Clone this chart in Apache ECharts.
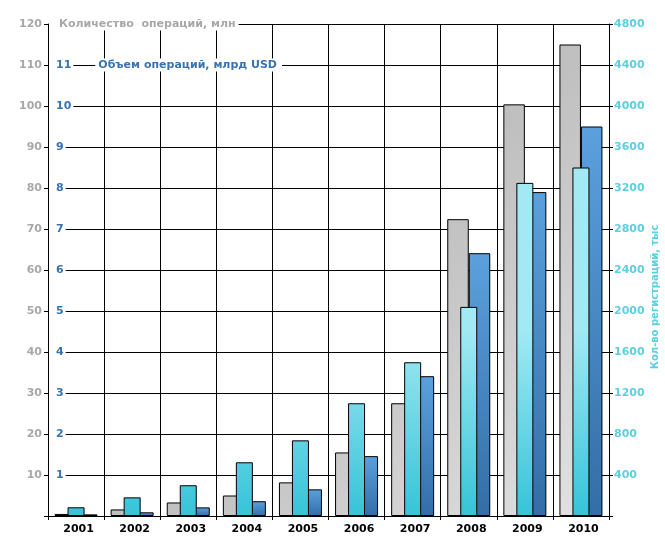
<!DOCTYPE html>
<html><head><meta charset="utf-8">
<script src="https://cdn.jsdelivr.net/npm/echarts/dist/echarts.min.js"></script>
<style>html,body{margin:0;padding:0;background:#fff}#c{width:665px;height:550px}</style>
</head><body><div id="c"></div>
<script>
// ---- data ----
const years = ['2001','2002','2003','2004','2005','2006','2007','2008','2009','2010'];
const opsCount = [0.5, 1.6, 3.3, 5.0, 8.2, 15.5, 27.5, 72.4, 100.4, 115.0];      // млн
const registrations = [85, 182, 300, 524, 738, 1100, 1500, 2040, 3250, 3400];    // тыс
const opsVolume = [0.04, 0.09, 0.21, 0.36, 0.65, 1.46, 3.41, 6.41, 7.9, 9.5];     // млрд USD
const countTitle = 'Количество  операций, млн';
const volumeTitle = 'Объем операций, млрд USD';
const regTitle = 'Кол-во регистраций, тыс';

const FONT = '"DejaVu Sans", Verdana, sans-serif';
const GRAY = '#a8a8a8', BLUE = '#3873b0', CYAN = '#5ccfe0';

const chart = echarts.init(document.getElementById('c'));
const G = echarts.graphic.LinearGradient;
chart.setOption({
  animation: false,
  backgroundColor: '#fff',
  grid: { left: 48, right: 56, top: 24, bottom: 34 },
  xAxis: [{
    type: 'category', data: years, boundaryGap: true,
    axisLine: { lineStyle: { color: '#000', width: 1 } },
    axisTick: { show: true, length: 4, interval: 0, lineStyle: { color: '#000' } },
    axisLabel: { interval: 0, margin: 8, color: '#000', fontFamily: FONT, fontWeight: 'bold', fontSize: 11, padding: [0,0,0,5] },
    splitLine: { show: true, interval: 0, lineStyle: { color: '#000', width: 1 } }
  }, {
    type: 'category', data: years, show: false
  }],
  yAxis: [{
    type: 'value', min: 0, max: 120, interval: 10, position: 'left',
    axisLine: { show: true, lineStyle: { color: '#000' } },
    axisTick: { show: true, length: 4, lineStyle: { color: '#000' } },
    axisLabel: { margin: 6, color: GRAY, fontFamily: FONT, fontWeight: 'bold', fontSize: 11,
      formatter: v => v === 0 ? '' : String(v) },
    splitLine: { show: true, lineStyle: { color: '#000', width: 1 } }
  }, {
    type: 'value', min: 0, max: 4800, interval: 400, position: 'right',
    axisLine: { show: true, lineStyle: { color: '#000' } },
    axisTick: { show: true, length: 4, lineStyle: { color: '#000' } },
    axisLabel: { margin: 5, color: CYAN, fontFamily: FONT, fontWeight: 'bold', fontSize: 11,
      formatter: v => v === 0 ? '' : String(v) },
    splitLine: { show: false }
  }, {
    type: 'value', min: 0, max: 12, interval: 1, position: 'left', z: 10,
    axisLine: { show: false }, axisTick: { show: false }, splitLine: { show: false },
    axisLabel: { inside: true, margin: 1, showMaxLabel: true, showMinLabel: true,
      fontFamily: FONT, fontWeight: 'bold', fontSize: 11,
      formatter: v => v === 0 ? '' : v === 12 ? '{t1|' + countTitle + '}'
        : v === 11 ? '{n|11}{gap|}{t2|' + volumeTitle + '}' : '{n|' + v + '}',
      rich: {
        n: { color: BLUE, fontFamily: FONT, fontWeight: 'bold', fontSize: 11, backgroundColor: '#fff', padding: [1, 2, 1, 7] },
        gap: { width: 22 },
        t1: { color: GRAY, fontFamily: FONT, fontWeight: 'bold', fontSize: 11, backgroundColor: '#fff', padding: [1, 3, 1, 10] },
        t2: { color: BLUE, fontFamily: FONT, fontWeight: 'bold', fontSize: 11, backgroundColor: '#fff', padding: [1, 5, 1, 3] }
      }
    }
  }],
  series: [{
    name: countTitle, type: 'bar', xAxisIndex: 0, yAxisIndex: 0, data: opsCount,
    barWidth: 21.5, barGap: '0%',
    itemStyle: { borderColor: '#000', borderWidth: 1,
      color: new G(200, 150, 600, 520, [{ offset: 0, color: '#bbbbbb' }, { offset: 0.4, color: '#c0c0c0' }, { offset: 1, color: '#e3e3e3' }], true) }
  }, {
    name: volumeTitle, type: 'bar', xAxisIndex: 0, yAxisIndex: 2, data: opsVolume,
    barWidth: 21.5, barGap: '0%',
    itemStyle: { borderColor: '#000', borderWidth: 1,
      color: new G(0, 0, 0, 1, [{ offset: 0, color: '#5ba0dd' }, { offset: 1, color: '#336ea6' }]) }
  }, {
    name: regTitle, type: 'bar', xAxisIndex: 1, yAxisIndex: 1, data: registrations,
    barWidth: 17, z: 3,
    itemStyle: { borderColor: '#000', borderWidth: 1,
      color: new G(0, 516, 0, 330, [{ offset: 0, color: '#36c3d8' }, { offset: 1, color: '#a2e9f3' }], true) }
  }],
  graphic: [{
    type: 'text', x: 655, y: 297, rotation: Math.PI / 2,
    style: { text: regTitle, fill: CYAN, font: 'bold 10px ' + FONT, align: 'center', verticalAlign: 'middle' }
  }]
});
</script>
</body></html>
